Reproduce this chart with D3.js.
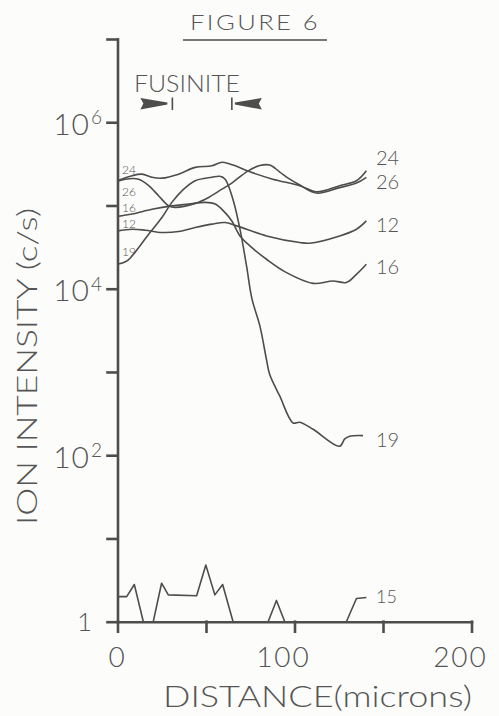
<!DOCTYPE html>
<html>
<head>
<meta charset="utf-8">
<script src="https://cdn.jsdelivr.net/npm/d3@7"></script>
<style>
  html, body { margin: 0; padding: 0; background: #fcfcfa; }
  svg { display: block; }
  text { font-family: Lato, "Noto Sans", sans-serif; font-weight: 300; fill: #555; }
</style>
</head>
<body>
<svg id="chart" width="499" height="716"></svg>
<script>
// ---- data (distance in microns, ion intensity in c/s) ----
const series24 = [[0,1.99e5],[8.2,2.28e5],[13.8,2.38e5],[19.5,2.18e5],[25.1,2.13e5],[34.5,2.38e5],[43.9,2.87e5],[53.3,3.0e5],[59.1,3.3e5],[65.3,3.06e5],[74.8,2.54e5],[87.7,2.07e5],[103,1.73e5],[112.4,1.46e5],[125.5,1.73e5],[135,1.98e5],[140.6,2.61e5]];
const series26 = [[0,1.95e5],[4.4,2.07e5],[12,2.07e5],[17.6,1.73e5],[23.2,1.31e5],[28.9,9.9e4],[32.6,9.5e4],[43.9,1.06e5],[51.5,1.25e5],[59,1.57e5],[64.6,1.86e5],[73.6,2.59e5],[80.4,3.02e5],[86,3.06e5],[91.7,2.52e5],[97.3,2.07e5],[103,1.76e5],[112.4,1.41e5],[125.5,1.64e5],[135,1.86e5],[140.6,2.18e5]];
const series16 = [[0,7.4e4],[8.2,7.9e4],[19.5,9.0e4],[30.7,9.9e4],[40.2,1.04e5],[49.5,1.09e5],[55.2,1.04e5],[60.8,8.2e4],[64.6,6.5e4],[69.2,4.3e4],[74.8,3.27e4],[84.2,2.26e4],[95.5,1.56e4],[110.5,1.16e4],[121.7,1.24e4],[129.3,1.19e4],[135,1.49e4],[140.6,1.97e4]];
const series12 = [[0,4.95e4],[8.2,5.19e4],[15.7,5.05e4],[25.1,4.74e4],[34.5,4.87e4],[43.9,5.44e4],[53.3,5.97e4],[60.8,6.25e4],[67.3,5.69e4],[84.2,4.31e4],[103,3.59e4],[108.6,3.52e4],[125.5,4.31e4],[135,5.19e4],[140.6,6.53e4]];
const series19 = [[0,1.97e4],[5.4,2.16e4],[12,3.13e4],[17.6,4.52e4],[25.1,7.18e4],[30.7,1.09e5],[36.4,1.5e5],[43.9,1.98e5],[53.3,2.18e5],[57.8,2.24e5],[60.8,2.07e5],[65.2,1.19e5],[69.2,5.19e4],[72.9,1.88e4],[76,7.5e3],[80.4,3.6e3],[84.2,1400],[86,930],[91.7,512],[99.2,244],[103,249],[110.5,205],[125.5,128],[128.4,157],[131.2,169],[138.7,172]];
const series15 = [[0,2],[5.2,2],[9.5,2.8],[14.6,1],[20.2,1],[24.9,2.9],[28.7,2.1],[44.7,2.05],[49.9,4.8],[55,2.1],[59.4,2.8],[65.3,1],[85.1,1],[89.8,1.8],[94.5,1],[129.3,1],[135,1.9],[140.6,1.95]];

const seriesNames = ["24","26","16","12","19","15"];
const seriesList = [series24, series26, series16, series12, series19, series15];
// label text at the right end of each curve
const endLabels = ["24","26","12","16","19","15"];
const endLabelValues = [3.7e5, 1.91e5, 5.8e4, 1.81e4, 154, 2.04];
// small labels at the left end
const startLabels = ["24","26","16","12","19"];
const startLabelValues = [2.7e5, 1.47e5, 9.4e4, 6.04e4, 2.78e4];

const xTicks = [0, 50, 100, 150, 200];
const xTickLabels = [0, 100, 200];
const yTicks = [1, 10, 1e2, 1e3, 1e4, 1e5, 1e6, 1e7];
const yTickLabels = [[1, "1", ""], [1e2, "10", "2"], [1e4, "10", "4"], [1e6, "10", "6"]];
const fusinite = [31, 64.6];

// ---- drawing ----
const svg = d3.select("#chart");
const ink = "#4d4d4d";
const x = d3.scaleLinear().domain([0, 200]).range([117.5, 471.5]);
const y = d3.scaleLog().domain([1, 1e7]).range([621.7, 39]);

// axes
const xAxis = svg.append("g").attr("transform", `translate(0,${y(1)})`)
  .call(d3.axisBottom(x).tickValues(xTicks).tickSize(10).tickSizeOuter(0).tickFormat(""));
const yAxis = svg.append("g").attr("transform", `translate(${x(0)},0)`)
  .call(d3.axisLeft(y).tickValues(yTicks).tickSize(10).tickSizeOuter(0).tickFormat(""));
[xAxis, yAxis].forEach(g => {
  g.selectAll("path, line").attr("stroke", ink).attr("stroke-width", 2.6).attr("stroke-linecap", "square");
});

// x tick labels
svg.selectAll(".xl").data(xTickLabels).enter().append("text")
  .attr("x", d => x(d) + (d === 0 ? 0 : -11))
  .attr("y", 667)
  .attr("text-anchor", "middle")
  .attr("font-size", 28)
  .attr("letter-spacing", 2)
  .text(d => d);

// y tick labels with superscripts
yTickLabels.forEach(([v, base, exp]) => {
  svg.append("text")
    .attr("x", exp ? 90 : 92)
    .attr("y", y(v) + (exp ? 12.5 : 9))
    .attr("text-anchor", "end")
    .attr("font-size", exp ? 30 : 26)
    .attr("letter-spacing", exp ? 1 : 0)
    .text(base);
  if (exp) {
    svg.append("text")
      .attr("x", 91)
      .attr("y", y(v) + 2)
      .attr("font-size", 19)
      .text(exp);
  }
});

// axis titles
svg.append("text")
  .attr("x", 163).attr("y", 706.5)
  .attr("font-size", 30)
  .attr("textLength", 309).attr("lengthAdjust", "spacingAndGlyphs")
  .text("DISTANCE(microns)");
svg.append("text")
  .attr("transform", "translate(37,366.5) rotate(-90)")
  .attr("text-anchor", "middle")
  .attr("font-size", 28)
  .attr("textLength", 317).attr("lengthAdjust", "spacingAndGlyphs")
  .text("ION INTENSITY (c/s)");

// title
svg.append("text")
  .attr("x", 190).attr("y", 29.5)
  .attr("font-size", 21)
  .attr("letter-spacing", 2)
  .attr("textLength", 130).attr("lengthAdjust", "spacingAndGlyphs")
  .text("FIGURE 6");
svg.append("line")
  .attr("x1", 183).attr("x2", 327).attr("y1", 40).attr("y2", 40)
  .attr("stroke", ink).attr("stroke-width", 1.6);

// fusinite marker
svg.append("text")
  .attr("x", 134).attr("y", 92)
  .attr("font-size", 23)
  .attr("textLength", 106).attr("lengthAdjust", "spacingAndGlyphs")
  .text("FUSINITE");
const fy = 103.5;
const xl = x(fusinite[0]), xr = x(fusinite[1]);
svg.append("path")
  .attr("d", `M${xl-32},${fy-5.5} L${xl-5},${fy-1} L${xl-5},${fy+1} L${xl-32},${fy+6} L${xl-29},${fy} Z`)
  .attr("fill", ink);
svg.append("path")
  .attr("d", `M${xr+30},${fy-5.5} L${xr+3},${fy-1} L${xr+3},${fy+1} L${xr+30},${fy+6} L${xr+27},${fy} Z`)
  .attr("fill", ink);
[xl, xr].forEach(xx => svg.append("line")
  .attr("x1", xx).attr("x2", xx).attr("y1", fy - 6).attr("y2", fy + 6.5)
  .attr("stroke", ink).attr("stroke-width", 1.6));

// curves
const smooth = d3.line().x(d => x(d[0])).y(d => y(d[1])).curve(d3.curveCatmullRom.alpha(0.5));
const sharp = d3.line().x(d => x(d[0])).y(d => y(d[1]));
seriesList.forEach((s, i) => {
  svg.append("path")
    .attr("d", seriesNames[i] === "15" ? sharp(s) : smooth(s))
    .attr("fill", "none")
    .attr("stroke", ink)
    .attr("stroke-width", 1.6)
    .attr("stroke-linejoin", "round");
});

// right-end labels
endLabels.forEach((lab, i) => {
  svg.append("text")
    .attr("x", 376)
    .attr("y", y(endLabelValues[i]) + 7)
    .attr("font-size", lab === "15" ? 18 : 20)
    .text(lab);
});
// left-end small labels
startLabels.forEach((lab, i) => {
  svg.append("text")
    .attr("x", 122)
    .attr("y", y(startLabelValues[i]) + 4.5)
    .attr("font-size", 12)
    .text(lab);
});
</script>
</body>
</html>
